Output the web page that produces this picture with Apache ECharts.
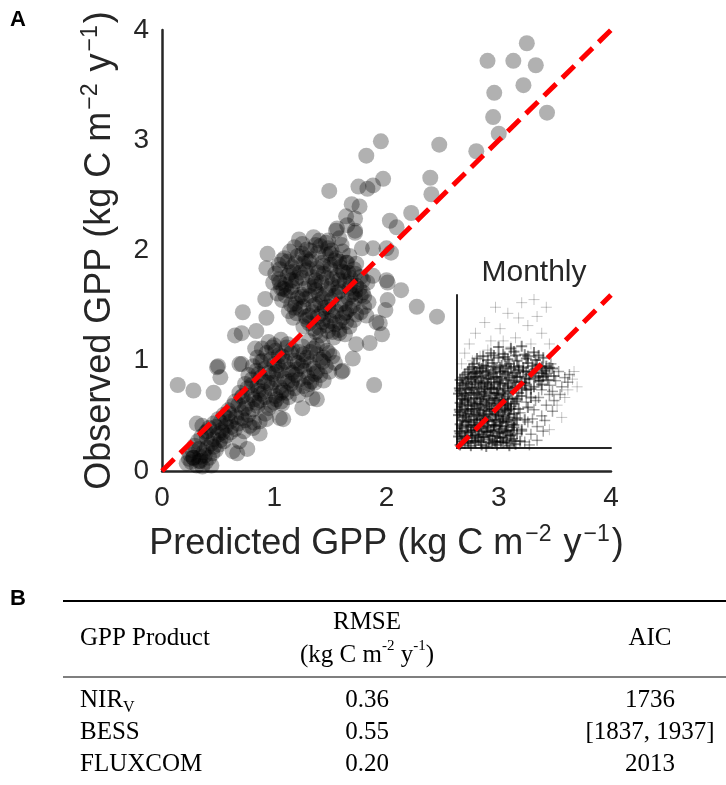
<!DOCTYPE html>
<html><head><meta charset="utf-8">
<script src="https://cdn.jsdelivr.net/npm/echarts@6/dist/echarts.min.js"></script>
<style>html,body{margin:0;padding:0;background:#fff}#c{width:726px;height:785px}</style>
</head><body><div id="c"></div>
<script>
// ---------- data ----------
const mainTicks = [0, 1, 2, 3, 4];
const insetRange = [0, 1];

// annual site values: [predicted, observed] (kg C m-2 y-1)
const annualOuter = [
[3.25,3.88],[2.90,3.72],[3.13,3.72],[3.33,3.68],[3.22,3.50],[2.96,3.43],[3.43,3.25],[2.95,3.21],[3.00,3.06],[2.80,2.90],[2.47,2.96],[1.95,2.99],[1.82,2.86],[1.49,2.54],[1.75,2.58],[1.83,2.56],[1.88,2.59],[1.97,2.65],[2.39,2.66],[2.40,2.51],[2.22,2.34],[2.03,2.27],[2.09,2.21],[1.69,2.42],[1.76,2.40],[1.64,2.31],[1.72,2.29],[1.72,2.18],[1.55,2.18],
[2.13,1.64],[2.27,1.49],[2.45,1.40],[2.01,1.55],[1.99,1.46],[1.91,1.35],[1.96,1.24],[1.85,1.16],[1.70,1.02],[1.60,0.90],[1.89,0.78],[1.73,1.15],[1.82,1.41],[2.01,1.71],[2.00,2.02],[2.04,1.98],[2.00,1.73],[1.88,1.77],[1.73,1.88],[1.64,1.89],[1.56,2.20],[1.65,2.23],[1.40,2.09],[1.58,2.11],
[0.14,0.78],[0.28,0.73],[0.46,0.71],[0.50,0.95],[0.52,0.85],[0.69,0.97],[0.31,0.43],[0.36,0.41],[0.28,0.12],[0.34,0.09],[0.44,0.05],[0.69,0.27],[0.76,0.20],[0.63,0.18],[0.54,0.35],[0.81,0.39],[0.87,0.34],[0.87,0.45],[0.93,0.47],[1.05,0.48],[1.07,0.61],[1.25,0.57],[1.38,0.65],[1.08,0.47],
[0.72,1.44],[0.92,1.56],[0.65,1.23],[0.71,1.25],[0.84,1.27],[0.49,0.94],[0.71,0.97],[0.83,1.11],[1.05,1.71],[1.11,1.64],[0.93,1.39],[1.61,0.91],[0.94,1.97],[0.93,1.84],
[0.40,0.36],[0.67,0.16],[1.34,0.66],[1.94,1.34],[1.78,2.02],[1.72,2.16],[1.88,2.02]
];
const annualUpper = [
[1.22,2.10],[1.35,2.12],[1.48,2.09],[1.60,2.05],
[1.18,2.03],[1.29,2.01],[1.41,2.04],[1.51,2.00],
[1.09,1.93],[1.21,1.95],[1.33,1.92],[1.46,1.96],[1.55,1.93],[1.67,1.95],
[1.04,1.87],[1.16,1.85],[1.26,1.88],[1.38,1.84],[1.50,1.87],[1.59,1.85],[1.71,1.83],
[1.01,1.79],[1.12,1.77],[1.23,1.80],[1.34,1.76],[1.44,1.79],[1.56,1.77],[1.66,1.80],[1.77,1.76],
[0.99,1.71],[1.10,1.69],[1.19,1.72],[1.31,1.68],[1.42,1.71],[1.51,1.69],[1.63,1.72],[1.73,1.68],[1.83,1.71],
[1.03,1.61],[1.15,1.63],[1.24,1.60],[1.37,1.64],[1.46,1.61],[1.58,1.63],[1.69,1.60],[1.79,1.62],
[1.07,1.55],[1.19,1.52],[1.28,1.56],[1.41,1.53],[1.51,1.55],[1.63,1.52],[1.72,1.56],[1.84,1.53],
[1.13,1.45],[1.23,1.47],[1.34,1.44],[1.45,1.48],[1.55,1.45],[1.67,1.47],[1.77,1.44],
[1.17,1.39],[1.29,1.37],[1.39,1.40],[1.50,1.36],[1.61,1.39],[1.71,1.37],
[1.26,1.31],[1.35,1.29],[1.47,1.32],[1.58,1.28],[1.67,1.31],
[1.41,1.23],[1.53,1.21],[1.63,1.24],
[1.25,2.06],[1.37,2.05],[1.46,2.07],
[1.14,1.99],[1.25,1.97],[1.39,1.98],[1.50,1.97],[1.61,1.99],
[1.07,1.91],[1.19,1.89],[1.31,1.90],[1.43,1.89],[1.54,1.91],[1.65,1.89],
[1.05,1.83],[1.17,1.81],[1.28,1.82],[1.39,1.80],[1.50,1.83],[1.61,1.81],[1.72,1.79],
[1.04,1.74],[1.15,1.73],[1.25,1.75],[1.37,1.73],[1.47,1.75],[1.58,1.73],[1.68,1.75],[1.79,1.73],
[1.06,1.66],[1.16,1.67],[1.27,1.65],[1.36,1.67],[1.48,1.65],[1.57,1.67],[1.67,1.66],[1.76,1.65],
[1.10,1.59],[1.21,1.57],[1.32,1.59],[1.43,1.57],[1.54,1.59],[1.66,1.57],[1.77,1.59],
[1.15,1.51],[1.26,1.49],[1.37,1.51],[1.48,1.49],[1.59,1.51],[1.70,1.50],[1.80,1.49],
[1.20,1.43],[1.31,1.41],[1.42,1.43],[1.52,1.41],[1.63,1.43],[1.73,1.42],
[1.31,1.34],[1.43,1.35],[1.54,1.33],[1.64,1.35],
[1.37,1.26],[1.48,1.27],[1.58,1.25],
[1.12,1.90],[1.28,1.93],[1.44,1.86],[1.58,1.90],[1.20,1.75],[1.36,1.70],[1.52,1.74],[1.68,1.70],[1.08,1.65],[1.25,1.58],[1.40,1.60],[1.56,1.62],[1.72,1.62],[1.18,1.48],[1.35,1.50],[1.50,1.46],[1.64,1.44],[1.80,1.58],[1.28,1.40],[1.44,1.38],[1.58,1.35],[1.40,1.30],[1.52,1.26],[1.32,2.00],[1.48,2.02],[1.62,1.80],[1.30,1.84],[1.14,1.80]
];
const annualMiddle = [
[0.95,1.17],[1.06,1.19],[1.31,1.18],[1.43,1.16],
[0.89,1.11],[1.01,1.09],[1.11,1.12],[1.22,1.08],[1.35,1.11],[1.47,1.09],
[0.85,1.03],[0.97,1.01],[1.07,1.04],[1.18,1.00],[1.29,1.03],[1.41,1.01],[1.52,1.04],
[0.81,0.95],[0.92,0.93],[1.03,0.96],[1.13,0.92],[1.24,0.95],[1.35,0.93],[1.46,0.95],
[0.77,0.87],[0.88,0.85],[0.99,0.88],[1.09,0.84],[1.19,0.87],[1.30,0.85],[1.41,0.87],
[0.74,0.79],[0.85,0.77],[0.94,0.80],[1.05,0.76],[1.15,0.79],[1.26,0.77],[1.36,0.80],
[0.69,0.71],[0.80,0.69],[0.91,0.72],[1.01,0.68],[1.11,0.71],[1.21,0.69],
[0.65,0.63],[0.76,0.61],[0.87,0.64],[0.97,0.60],[1.06,0.63],
[0.59,0.55],[0.71,0.53],[0.81,0.56],[0.92,0.52],
[1.00,1.14],[1.12,1.15],[1.25,1.13],[1.38,1.14],
[0.93,1.07],[1.04,1.05],[1.15,1.07],[1.26,1.06],[1.38,1.06],[1.49,1.07],
[0.88,0.99],[1.00,0.97],[1.10,0.99],[1.21,0.98],[1.32,0.97],[1.43,0.99],[1.54,0.98],
[0.84,0.91],[0.95,0.89],[1.06,0.91],[1.16,0.89],[1.27,0.91],[1.38,0.90],[1.49,0.90],
[0.80,0.83],[0.91,0.81],[1.02,0.83],[1.12,0.81],[1.22,0.83],[1.33,0.81],[1.44,0.82],
[0.76,0.75],[0.86,0.73],[0.97,0.75],[1.08,0.73],[1.18,0.75],[1.29,0.74],
[0.71,0.67],[0.82,0.65],[0.92,0.67],[1.02,0.65],[1.13,0.67],
[0.63,0.59],[0.74,0.57],[0.85,0.59],[0.95,0.57],
[0.98,1.12],[1.16,1.10],[1.32,1.08],[0.90,1.00],[1.08,0.98],[1.26,1.00],[1.44,1.03],[0.86,0.88],[1.02,0.90],[1.20,0.92],[1.36,0.88],[0.80,0.78],[0.98,0.80],[1.16,0.82],[1.31,0.79],[0.72,0.68],[0.88,0.70],[1.06,0.71],[0.68,0.60],[0.84,0.62],[1.00,0.62]
];
const annualLower = [
[0.50,0.47],[0.61,0.45],[0.71,0.48],[0.82,0.44],
[0.42,0.39],[0.53,0.37],[0.62,0.40],[0.73,0.36],
[0.35,0.31],[0.46,0.29],[0.57,0.32],
[0.29,0.23],[0.40,0.21],[0.51,0.24],
[0.25,0.15],[0.34,0.13],[0.45,0.16],
[0.22,0.07],[0.31,0.05],[0.39,0.08],
[0.55,0.51],[0.66,0.49],[0.77,0.51],
[0.46,0.43],[0.57,0.41],[0.68,0.43],[0.78,0.41],
[0.39,0.35],[0.50,0.33],[0.61,0.35],
[0.32,0.27],[0.44,0.25],[0.55,0.27],
[0.27,0.19],[0.37,0.17],[0.48,0.19],
[0.24,0.11],[0.33,0.09],[0.42,0.12],
[0.58,0.48],[0.74,0.46],[0.48,0.40],[0.65,0.38],[0.40,0.30],[0.52,0.28],[0.33,0.20],[0.46,0.22],[0.28,0.12],[0.38,0.14],[0.26,0.08],[0.36,0.04],[0.60,0.52],[0.52,0.44]
];

// monthly values (normalised inset units): [predicted, observed]
const monthlyDense = [
[.02,.02],[.05,.03],[.09,.015],[.12,.035],[.16,.02],[.19,.01],[.23,.03],[.26,.02],[.30,.035],[.34,.015],[.38,.025],
[.03,.06],[.07,.045],[.10,.065],[.14,.05],[.17,.07],[.21,.055],[.25,.04],[.28,.065],[.32,.05],[.36,.06],[.41,.045],
[.02,.095],[.05,.08],[.09,.1],[.12,.085],[.16,.09],[.20,.105],[.23,.08],[.27,.095],[.31,.1],[.35,.085],[.39,.095],
[.03,.13],[.07,.115],[.11,.135],[.14,.12],[.18,.13],[.22,.115],[.25,.14],[.29,.125],[.33,.115],[.37,.135],[.42,.12],
[.02,.155],[.06,.17],[.09,.15],[.13,.165],[.17,.16],[.20,.175],[.24,.15],[.28,.165],[.32,.17],[.36,.155],
[.04,.2],[.08,.185],[.11,.205],[.15,.19],[.19,.2],[.23,.185],[.27,.205],[.30,.19],[.34,.2],[.39,.195],[.44,.185],
[.02,.235],[.06,.225],[.10,.24],[.14,.23],[.17,.22],[.21,.24],[.25,.225],[.29,.235],[.33,.245],[.37,.225],
[.03,.27],[.07,.255],[.11,.275],[.15,.26],[.19,.27],[.23,.255],[.27,.275],[.31,.26],[.35,.27],[.40,.255],[.46,.265],
[.02,.295],[.05,.31],[.09,.3],[.13,.29],[.17,.305],[.21,.295],[.25,.31],[.29,.3],[.33,.29],[.38,.305],
[.03,.34],[.07,.325],[.11,.345],[.15,.33],[.19,.34],[.23,.325],[.27,.345],[.31,.335],[.36,.325],[.42,.34],[.48,.33],
[.02,.375],[.06,.36],[.10,.38],[.14,.365],[.18,.37],[.22,.385],[.26,.36],[.30,.375],[.35,.37],[.40,.36],[.45,.38],
[.04,.41],[.08,.395],[.12,.415],[.16,.4],[.20,.41],[.24,.395],[.28,.415],[.33,.405],[.38,.395],[.44,.41],[.50,.4],[.55,.415],
[.02,.445],[.06,.435],[.10,.45],[.14,.44],[.18,.43],[.22,.45],[.27,.435],[.32,.445],[.37,.44],[.42,.43],[.47,.45],[.53,.44],[.59,.445],
[.05,.48],[.09,.465],[.13,.485],[.17,.47],[.21,.48],[.26,.465],[.31,.485],[.36,.475],[.41,.465],[.47,.48],[.53,.47],[.58,.485],[.63,.47],
[.08,.515],[.12,.5],[.16,.52],[.20,.505],[.25,.515],[.30,.5],[.35,.52],[.40,.51],[.45,.5],[.51,.515],[.57,.505],[.62,.52],
[.11,.55],[.17,.54],[.23,.555],[.29,.54],[.34,.55],[.40,.535],[.46,.555],[.52,.545],[.58,.535],
[.13,.585],[.20,.575],[.27,.59],[.33,.58],[.39,.57],[.45,.585],[.51,.575],[.56,.59],
[.22,.62],[.30,.615],[.37,.63],[.44,.61],[.50,.625],
[.27,.66],[.35,.65],[.42,.665],
[.035,.04],[.075,.035],[.115,.045],[.155,.04],[.205,.035],[.245,.045],[.285,.04],[.325,.035],[.37,.045],
[.015,.11],[.06,.105],[.10,.115],[.145,.11],[.19,.105],[.235,.115],[.275,.105],[.32,.11],[.36,.115],
[.035,.18],[.075,.175],[.12,.185],[.16,.18],[.205,.175],[.25,.185],[.29,.175],[.33,.18],[.38,.185],
[.015,.25],[.055,.245],[.095,.255],[.14,.25],[.18,.245],[.225,.255],[.265,.245],[.31,.25],[.35,.255],
[.035,.32],[.075,.315],[.12,.325],[.16,.32],[.205,.315],[.245,.325],[.29,.315],[.33,.32],[.39,.32],
[.015,.39],[.055,.385],[.095,.395],[.14,.39],[.18,.385],[.225,.395],[.265,.385],[.31,.39],[.36,.395],[.42,.39],[.48,.385],
[.035,.46],[.075,.455],[.12,.465],[.16,.46],[.205,.455],[.25,.465],[.29,.455],[.34,.46],[.39,.465],[.45,.455],[.51,.46],[.56,.465],
[.10,.53],[.145,.525],[.19,.535],[.24,.53],[.28,.525],[.32,.535],[.37,.53],[.43,.525],[.49,.535],[.55,.53],[.60,.525],
[.17,.60],[.24,.605],[.31,.595],[.38,.605],[.46,.60],[.53,.605],
[.01,.075],[.055,.07],[.095,.08],[.135,.075],[.175,.07],[.215,.08],[.26,.075],[.30,.07],[.345,.08],
[.03,.145],[.07,.14],[.115,.15],[.155,.145],[.195,.14],[.24,.15],[.28,.145],[.32,.14],[.37,.15],
[.01,.215],[.05,.21],[.09,.22],[.13,.215],[.175,.21],[.215,.22],[.255,.215],[.30,.21],[.34,.22],
[.03,.285],[.07,.28],[.115,.29],[.155,.285],[.195,.28],[.24,.29],[.28,.285],[.32,.28],[.37,.29],
[.01,.355],[.05,.35],[.09,.36],[.13,.355],[.175,.35],[.215,.36],[.255,.355],[.30,.35],[.34,.36],
[.03,.425],[.07,.42],[.115,.43],[.155,.425],[.195,.42],[.24,.43],[.28,.425],[.33,.42],[.38,.43],[.44,.425],
[.07,.495],[.11,.49],[.15,.50],[.19,.495],[.235,.49],[.28,.50],[.33,.495],[.38,.49],[.43,.50],[.49,.495],[.55,.49]
];
const monthlyMedium = [
[.44,.04],[.48,.09],[.52,.14],[.46,.17],[.55,.21],[.50,.25],[.58,.28],[.45,.30],[.53,.33],[.60,.35],[.42,.11],[.49,.19],[.56,.11],[.62,.24],[.47,.02],[.52,.05],[.57,.18],[.41,.23],[.63,.31],[.51,.31],
[.55,.38],[.60,.41],[.64,.44],[.58,.47],[.66,.50],[.70,.46],[.62,.37],[.68,.40],[.72,.43],[.56,.52],[.61,.55],[.73,.48],[.67,.35],[.54,.44]
];
const monthlySparse = [
[.08,.68],[.12,.75],[.05,.62],[.18,.82],[.22,.70],[.28,.78],[.33,.88],[.38,.72],[.42,.95],[.46,.80],[.50,.97],[.55,.75],[.60,.68],[.25,.92],[.15,.60],[.35,.66],[.48,.68],[.40,.85],[.30,.70],[.20,.64],[.52,.86],[.58,.92],[.10,.57],[.03,.55],
[.75,.45],[.78,.40],[.70,.33],[.65,.28],[.68,.20],[.60,.12],[.72,.38],[.76,.50]
];

const oneToOneMain = [[0, 0], [4, 4]];
const oneToOneInset = [[0, 0], [1, 1]];

const xTitle = ['Predicted GPP (kg C m', '\u22122', ' y', '\u22121', ')'];
const yTitle = ['Observed GPP (kg C m', '\u22122', ' y', '\u22121', ')'];
const insetTitle = 'Monthly';

const tableHead = ['GPP Product', 'RMSE', 'AIC'];
const tableUnit = ['(kg C m', '-2', ' y', '-1', ')'];
const productNames = [['NIR', 'V'], ['BESS', ''], ['FLUXCOM', '']];
const rmseValues = ['0.36', '0.55', '0.20'];
const aicValues = ['1736', '[1837, 1937]', '2013'];

// ---------- chart ----------
const SANS = 'Liberation Sans';
const SERIF = 'Liberation Serif';
const AX = '#262626';
const TFS = 25;

function richTitle(parts) {
  return '{a|' + parts[0] + '}{s|' + parts[1] + '}{a|' + parts[2] + '}{s|' + parts[3] + '}{a|' + parts[4] + '}';
}
const titleRich = {
  a: { fontSize: 36, lineHeight: 42, fontFamily: SANS, color: AX },
  s: { fontSize: 23, lineHeight: 28, fontFamily: SANS, color: AX, verticalAlign: 'top', padding: [0, 2, 0, 2] }
};

const chart = echarts.init(document.getElementById('c'), null, { renderer: 'canvas' });

const rowY = [700, 732, 764];
const centerText = (t, x, y) => ({ type: 'text', style: { text: t, x: x, y: y, font: TFS + 'px ' + SERIF, fill: '#000', align: 'center', textAlign: 'center', verticalAlign: 'middle', textVerticalAlign: 'middle' } });
const graphics = [
  { type: 'text', style: { text: 'A', x: 10, y: 9, font: 'bold 22px ' + SANS, fill: '#000' } },
  { type: 'text', style: { text: 'B', x: 10, y: 588, font: 'bold 22px ' + SANS, fill: '#000' } },
  { type: 'text', style: { text: insetTitle, x: 534, y: 273, font: '30px ' + SANS, fill: AX, align: 'center', textAlign: 'center', verticalAlign: 'middle', textVerticalAlign: 'middle' } },
  { type: 'line', shape: { x1: 63, y1: 601, x2: 726, y2: 601 }, style: { stroke: '#000', lineWidth: 2 } },
  { type: 'line', shape: { x1: 63, y1: 677, x2: 726, y2: 677 }, style: { stroke: '#000', lineWidth: 1.2 } },
  { type: 'text', style: { text: tableHead[0], x: 80, y: 638, font: TFS + 'px ' + SERIF, fill: '#000', verticalAlign: 'middle', textVerticalAlign: 'middle' } },
  centerText(tableHead[1], 367, 622),
  centerText(tableHead[2], 650, 638),
  { type: 'text', style: {
      text: '{a|' + tableUnit[0] + '}{s|' + tableUnit[1] + '}{a|' + tableUnit[2] + '}{s|' + tableUnit[3] + '}{a|' + tableUnit[4] + '}',
      x: 367, y: 655, align: 'center', textAlign: 'center', verticalAlign: 'middle', textVerticalAlign: 'middle',
      rich: { a: { fontSize: TFS, lineHeight: 32, fontFamily: SERIF, fill: '#000' }, s: { fontSize: 15, lineHeight: 20, fontFamily: SERIF, fill: '#000', verticalAlign: 'top' } }
  } }
];
productNames.forEach((p, i) => {
  graphics.push({ type: 'text', style: {
    text: '{a|' + p[0] + '}' + (p[1] ? '{b|' + p[1] + '}' : ''),
    x: 80, y: rowY[i], verticalAlign: 'middle', textVerticalAlign: 'middle',
    rich: { a: { fontSize: TFS, lineHeight: 32, fontFamily: SERIF, fill: '#000' }, b: { fontSize: 16, lineHeight: 18, fontFamily: SERIF, fill: '#000', verticalAlign: 'bottom' } }
  } });
  graphics.push(centerText(rmseValues[i], 367, rowY[i]));
  graphics.push(centerText(aicValues[i], 650, rowY[i]));
});

const mainAxisCommon = {
  type: 'value', min: mainTicks[0], max: mainTicks[mainTicks.length - 1], interval: 1,
  axisLine: { show: true, onZero: false, lineStyle: { color: AX, width: 2.5 } },
  axisTick: { show: false }, splitLine: { show: false },
  axisLabel: { fontSize: 28, fontFamily: SANS, color: AX, margin: 13 },
  nameLocation: 'middle', nameTextStyle: { rich: titleRich }
};
const insetAxisCommon = {
  type: 'value', min: insetRange[0], max: insetRange[1],
  axisLine: { show: true, onZero: false, lineStyle: { color: AX, width: 2 } },
  axisTick: { show: false }, splitLine: { show: false }, axisLabel: { show: false }
};

const crossArm = (data, size, color) => ({
  type: 'scatter', xAxisIndex: 1, yAxisIndex: 1, symbol: 'rect', symbolSize: size,
  data: data, itemStyle: { color: color, borderWidth: 0 }, silent: true, z: 2
});
const DENSE_C = 'rgba(0,0,0,0.6)';
const MEDIUM_C = 'rgba(0,0,0,0.45)';
const SPARSE_C = 'rgba(0,0,0,0.28)';

const option = {
  animation: false,
  backgroundColor: '#fff',
  grid: [
    { left: 162, top: 30, width: 449, height: 441 },
    { left: 457, top: 295, width: 154, height: 153 }
  ],
  xAxis: [
    Object.assign({}, mainAxisCommon, { gridIndex: 0, name: richTitle(xTitle), nameGap: 52 }),
    Object.assign({}, insetAxisCommon, { gridIndex: 1 })
  ],
  yAxis: [
    Object.assign({}, mainAxisCommon, { gridIndex: 0, name: richTitle(yTitle), nameGap: 41 }),
    Object.assign({}, insetAxisCommon, { gridIndex: 1 })
  ],
  series: [
    { type: 'scatter', xAxisIndex: 0, yAxisIndex: 0, symbol: 'circle', symbolSize: 16,
      data: annualOuter.concat(annualUpper, annualMiddle, annualLower),
      itemStyle: { color: 'rgba(0,0,0,0.38)', borderWidth: 0 }, silent: true, z: 2 },
    { type: 'line', xAxisIndex: 0, yAxisIndex: 0, data: oneToOneMain, symbol: 'none', silent: true, z: 5,
      lineStyle: { color: '#ff0000', width: 5, type: [17, 8.5], cap: 'butt' } },
    crossArm(monthlySparse, [11, 1], SPARSE_C),
    crossArm(monthlySparse, [1, 11], SPARSE_C),
    crossArm(monthlyMedium, [11, 1.5], MEDIUM_C),
    crossArm(monthlyMedium, [1.5, 11], MEDIUM_C),
    crossArm(monthlyDense, [11, 2], DENSE_C),
    crossArm(monthlyDense, [2, 11], DENSE_C),
    { type: 'line', xAxisIndex: 1, yAxisIndex: 1, data: oneToOneInset, symbol: 'none', silent: true, z: 5,
      lineStyle: { color: '#ff0000', width: 5, type: [17, 8.5], cap: 'butt' } }
  ],
  graphic: graphics
};
chart.setOption(option);
</script>
</body></html>
